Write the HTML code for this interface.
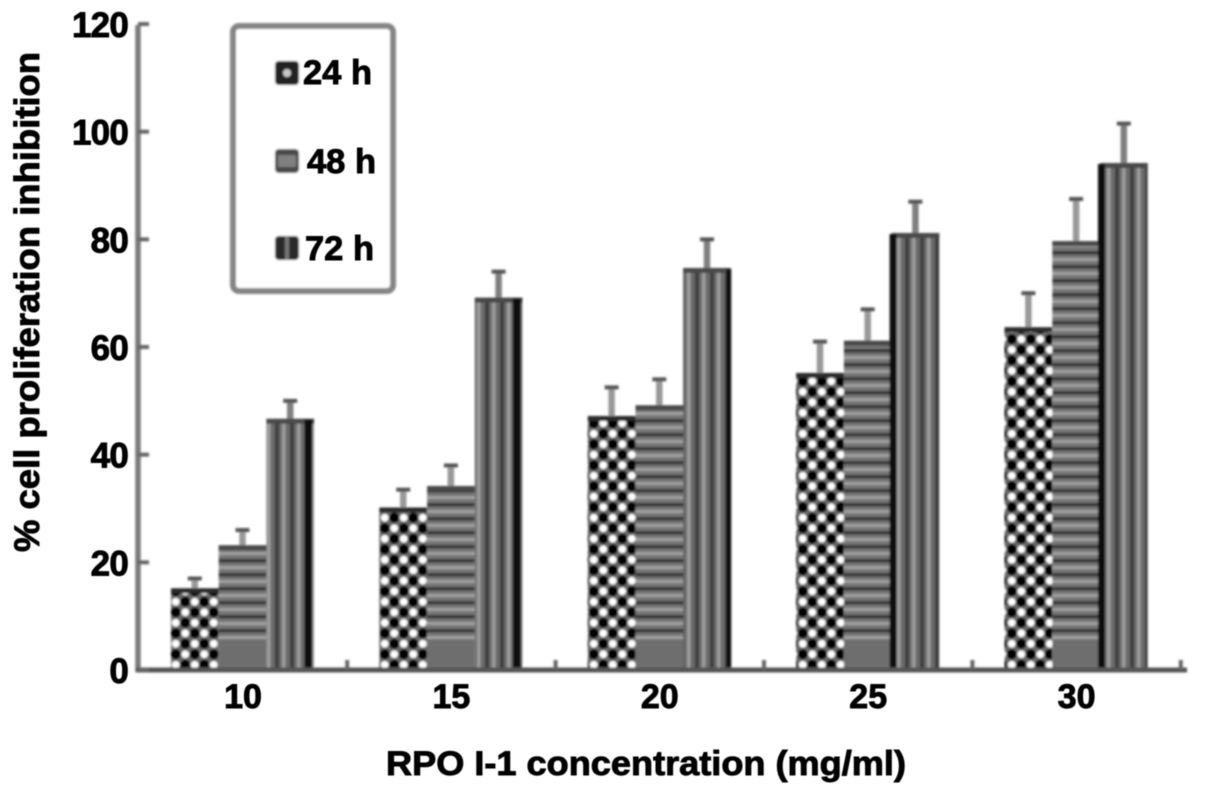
<!DOCTYPE html>
<html>
<head>
<meta charset="utf-8">
<title>Cell proliferation inhibition chart</title>
<style>
html,body{margin:0;padding:0;background:#fff;width:1205px;height:796px;overflow:hidden}
svg{display:block}
text{font-family:"Liberation Sans",sans-serif;font-weight:bold;fill:#000;stroke:#000;stroke-width:.9}
</style>
</head>
<body>
<svg id="chart" width="1205" height="796" viewBox="0 0 1205 796" xmlns="http://www.w3.org/2000/svg">
<defs>
<filter id="soft" x="-5%" y="-5%" width="110%" height="110%"><feGaussianBlur stdDeviation="1.1"/></filter>
<filter id="softer" x="-5%" y="-5%" width="110%" height="110%"><feGaussianBlur stdDeviation="0.6"/></filter>
<pattern id="p24" width="19" height="21" patternUnits="userSpaceOnUse" x="171" y="670">
<rect width="19" height="21" fill="#6a6a6a"/>
<circle cx="4.75" cy="5.25" r="5.2" fill="#000"/>
<circle cx="14.25" cy="15.75" r="5.2" fill="#000"/>
<circle cx="14.25" cy="5.25" r="3.8" fill="#fff"/>
<circle cx="4.75" cy="15.75" r="3.8" fill="#fff"/>
</pattern>
<pattern id="p48" width="20" height="14" patternUnits="userSpaceOnUse" x="0" y="670">
<rect width="20" height="14" fill="#757575"/>
<rect y="1" width="20" height="3.5" fill="#383838"/>
<rect y="8" width="20" height="3" fill="#a0a0a0"/>
</pattern>
<pattern id="p72" width="15" height="20" patternUnits="userSpaceOnUse" x="266" y="0">
<rect width="15" height="20" fill="#6a6a6a"/>
<rect x="1" width="3.5" height="20" fill="#9c9c9c"/>
<rect x="9" width="4" height="20" fill="#3c3c3c"/>
</pattern>
</defs>
<g id="marks" filter="url(#soft)"></g>
<g id="labels" filter="url(#softer)"></g>
</svg>
<script>
var categories = ['10', '15', '20', '25', '30'];
var seriesNames = ['24 h', '48 h', '72 h'];
var values24 = [15, 30, 47, 55, 63.5];
var values48 = [23, 34, 49, 61, 79.5];
var values72 = [46.5, 69, 74.5, 81, 94];
var errorTop24 = [17, 33.5, 52.5, 61, 70];
var errorTop48 = [26, 38, 54, 67, 87.5];
var errorTop72 = [50, 74, 80, 87, 101.5];
var yTicks = [0, 20, 40, 60, 80, 100, 120];

function yScale(v) { return 670 - v * 5.383; }
function xBand(i) { return 243 + i * 208.4; }
function xEdge(i) { return xBand(i) + 104.2; }
function seriesX(s) { return -72 + s * 47.7; }

var NS = 'http://www.w3.org/2000/svg';
var marks = document.getElementById('marks');
var labels = document.getElementById('labels');
function make(tag, attrs, parent) {
  var el = document.createElementNS(NS, tag);
  for (var k in attrs) el.setAttribute(k, attrs[k]);
  parent.appendChild(el);
  return el;
}

var allValues = [values24, values48, values72];
var allErrors = [errorTop24, errorTop48, errorTop72];
var fills = ['url(#p24)', 'url(#p48)', 'url(#p72)'];
var errorColors = ['#999', '#999', '#808080'];
var capColors = ['#555', '#555', '#555'];

/* error bars */
allValues.forEach(function (vals, s) {
  vals.forEach(function (v, i) {
    var cx = xBand(i) + seriesX(s) + 23.8;
    var stem = make('line', {x1: cx, x2: cx, y1: yScale(v), y2: yScale(allErrors[s][i]), stroke: errorColors[s], 'stroke-width': 6.5}, marks);
    
    
    var cap = make('line', {x1: cx - 7, x2: cx + 7, y1: yScale(allErrors[s][i]), y2: yScale(allErrors[s][i]), stroke: capColors[s], 'stroke-width': 4}, marks);
    
    
  });
});

/* bars */
allValues.forEach(function (vals, s) {
  vals.forEach(function (v, i) {
    var x = xBand(i) + seriesX(s);
    if (s === 1) {
      var low = make('rect', {x: x, y: 640, width: 47.7, height: 30, fill: '#6e6e6e'}, marks);
      
      
    }
    var bar = make('rect', {x: x, y: yScale(v), width: 47.7, height: (s === 1 ? 640 : 670) - yScale(v), fill: fills[s]}, marks);
    
    
    var top = make('rect', {x: x, y: yScale(v) - 1, width: 47.7, height: 5, fill: s === 0 ? '#2c2c2c' : '#4a4a4a'}, marks);
    
    
    if (s === 2) {
      if (i < 3) {
        var edgeR = make('rect', {x: x + (i === 2 ? 43 : 38), y: yScale(v), width: i === 2 ? 5 : 8, height: 670 - yScale(v), fill: '#111'}, marks);
        
        
      } else {
        var edgeL = make('rect', {x: x - 2, y: yScale(v), width: 7, height: 670 - yScale(v), fill: '#111'}, marks);
        
        
      }
    }
  });
});

/* axes */
var yAxis = make('line', {x1: 138, x2: 138, y1: yScale(120) + 1, y2: 672, stroke: '#7a7a7a', 'stroke-width': 5.5}, marks);


var xAxis = make('line', {x1: 136, x2: 1187, y1: 670, y2: 670, stroke: '#555', 'stroke-width': 5}, marks);



yTicks.forEach(function (t) {
  var tick = make('line', {x1: 138, x2: 149, y1: yScale(t), y2: yScale(t), stroke: '#666', 'stroke-width': 4}, marks);
  
  
  var lab = make('text', {x: 128, y: yScale(t) + 13, 'text-anchor': 'end', 'font-size': 35, 'letter-spacing': -0.8}, labels);
  
  
  lab.textContent = t;
});

categories.forEach(function (c, i) {
  var tick = make('line', {x1: xEdge(i), x2: xEdge(i), y1: 670, y2: 660, stroke: '#666', 'stroke-width': 4}, marks);
  
  
  var lab = make('text', {x: xBand(i), y: 708, 'text-anchor': 'middle', 'font-size': 34}, labels);
  
  
  lab.textContent = c;
});

var xTitle = make('text', {x: 386, y: 775, 'font-size': 34, textLength: 520, lengthAdjust: 'spacingAndGlyphs'}, labels);


xTitle.textContent = 'RPO I-1 concentration (mg/ml)';

var yTitle = make('text', {x: 0, y: 0, 'font-size': 35, textLength: 500, lengthAdjust: 'spacingAndGlyphs', transform: 'translate(39,552) rotate(-90)'}, labels);


yTitle.textContent = '% cell proliferation inhibition';

/* legend */
var legendBox = make('rect', {x: 233, y: 26, width: 160, height: 265, rx: 6, fill: '#fff', stroke: '#858585', 'stroke-width': 6}, marks);



var legendInner = ['#c8c8c8', '#808080', '#777'];
var legendEdge = ['#222', '#4a4a4a', '#2c2c2c'];
var legendLabelX = [303, 307, 305];
var legendRowY = [73, 161, 248];
var legendBaseline = [84, 173, 260];
seriesNames.forEach(function (name, s) {
  var y = legendRowY[s];
  var sw = make('rect', {x: 275, y: y - 12, width: 24, height: 24, rx: 4, fill: legendEdge[s]}, marks);
  
  
  var inner = make('rect', {x: s === 2 ? 285 : (s === 0 ? 283 : 278), y: s === 2 ? y - 12 : (s === 0 ? y - 4 : y - 6), width: s === 2 ? 4 : (s === 0 ? 8 : 18), height: s === 2 ? 24 : (s === 0 ? 8 : 12), rx: s === 0 ? 4 : 1, fill: legendInner[s]}, marks);
  
  
  var lab = make('text', {x: legendLabelX[s], y: legendBaseline[s], 'font-size': 34.5}, labels);
  
  
  lab.textContent = name;
});
</script>
</body>
</html>
